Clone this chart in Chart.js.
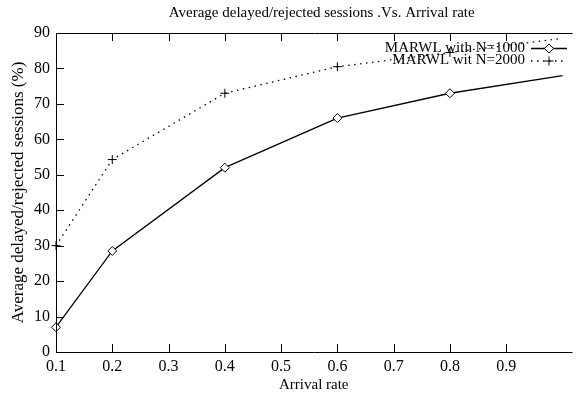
<!DOCTYPE html>
<html>
<head>
<meta charset="utf-8">
<script src="https://cdn.jsdelivr.net/npm/chart.js@4.4.0/dist/chart.umd.min.js"></script>
<style>
  body { margin: 0; background: #fff; }
</style>
</head>
<body>
<canvas id="grafica" width="577" height="396"></canvas>
<script>
// Datos
const tasas = [0.1, 0.2, 0.4, 0.6, 0.8, 1.0];
const n1000 = [7, 28.5, 52, 66, 73, 78];
const n2000 = [30, 54.3, 73, 80.5, 84.5, 88.5];
const ticksX = [0.1, 0.2, 0.3, 0.4, 0.5, 0.6, 0.7, 0.8, 0.9];
const ticksY = [0, 10, 20, 30, 40, 50, 60, 70, 80, 90];
const titulo = 'Average delayed/rejected sessions .Vs. Arrival rate';

const fuente = "'Liberation Serif', 'DejaVu Serif', serif";

// marco estilo gnuplot, con ticks hacia dentro
const marco = {
    id: 'marco',
    afterDatasetsDraw(chart) {
        const ctx = chart.ctx;
        const a = chart.chartArea;
        const x = chart.scales.x;
        const y = chart.scales.y;
        ctx.save();
        ctx.strokeStyle = '#000';
        ctx.lineWidth = 1;
        ctx.beginPath();
        ctx.moveTo(a.right + 1, a.top + 0.5);
        ctx.lineTo(a.left + 0.5, a.top + 0.5);
        ctx.lineTo(a.left + 0.5, a.bottom + 0.5);
        ctx.lineTo(a.right + 1, a.bottom + 0.5);
        ticksX.forEach(v => {
            const px = Math.round(x.getPixelForValue(v)) + 0.5;
            ctx.moveTo(px, a.bottom);
            ctx.lineTo(px, a.bottom - 8);
            ctx.moveTo(px, a.top);
            ctx.lineTo(px, a.top + 8);
        });
        ticksY.forEach(v => {
            const py = Math.round(y.getPixelForValue(v)) + 0.5;
            ctx.moveTo(a.left, py);
            ctx.lineTo(a.left + 8, py);
        });
        ctx.stroke();

        // titulo
        ctx.fillStyle = '#000';
        ctx.font = '15px ' + fuente;
        ctx.textAlign = 'center';
        ctx.textBaseline = 'middle';
        ctx.fillText(titulo, (a.left + a.right) / 2 + 8, 13);

        // leyenda dentro del area
        ctx.textAlign = 'right';
        chart.data.datasets.forEach((ds, i) => {
            const ly = 48 + i * 12.5;
            ctx.fillStyle = '#000';
            ctx.fillText(ds.label, 525, ly);
            ctx.save();
            ctx.lineWidth = ds.borderWidth;
            ctx.setLineDash(ds.borderDash || []);
            ctx.beginPath();
            ctx.moveTo(531, ly + 0.5);
            ctx.lineTo(567, ly + 0.5);
            ctx.stroke();
            ctx.restore();
            ctx.fillStyle = '#fff';
            Chart.helpers.drawPoint(ctx, {
                pointStyle: ds.pointStyle,
                radius: 4.5,
                borderWidth: 1
            }, 549, ly + 0.5);
        });
        ctx.restore();
    }
};

const ctx1 = document.getElementById('grafica').getContext('2d');
const myChart1 = new Chart(ctx1, {
    type: 'line',
    data: {
        labels: tasas,
        datasets: [{
            label: 'MARWL with N=1000',
            data: tasas.map((t, i) => ({ x: t, y: n1000[i] })),
            clip: false,
            borderColor: '#000',
            backgroundColor: '#fff',
            borderWidth: 1.3,
            pointStyle: 'rectRot',
            pointRadius: [4.5, 4.5, 4.5, 4.5, 4.5, 0],
            pointBorderWidth: 1,
            pointBorderColor: '#000',
            pointBackgroundColor: '#fff'
        }, {
            label: 'MARWL wit N=2000',
            data: tasas.map((t, i) => ({ x: t, y: n2000[i] })),
            clip: false,
            borderColor: '#000',
            backgroundColor: '#000',
            borderWidth: 1.3,
            borderDash: [1.5, 4.5],
            pointStyle: 'cross',
            pointRadius: [4.5, 4.5, 4.5, 4.5, 4.5, 0],
            pointBorderWidth: 1,
            pointBorderColor: '#000'
        }]
    },
    options: {
        responsive: false,
        animation: false,
        layout: { padding: { top: 33, right: 0, left: 0, bottom: 0 } },
        plugins: {
            legend: { display: false },
            title: { display: false },
            tooltip: { enabled: false }
        },
        scales: {
            x: {
                type: 'linear',
                min: 0.1,
                max: 1.016,
                afterBuildTicks: s => { s.ticks = ticksX.map(v => ({ value: v })); },
                afterFit: s => { s.height = 44; },
                grid: { display: false, drawTicks: false },
                border: { display: false },
                ticks: {
                    color: '#000',
                    padding: 5,
                    maxRotation: 0,
                    font: { family: fuente, size: 16 },
                    callback: v => String(v)
                },
                title: {
                    display: true,
                    text: 'Arrival rate',
                    color: '#000',
                    font: { family: fuente, size: 15 },
                    padding: { top: 0, bottom: 2 }
                }
            },
            y: {
                min: 0,
                max: 90,
                afterBuildTicks: s => { s.ticks = ticksY.map(v => ({ value: v })); },
                afterFit: s => { s.width = 56; },
                grid: { display: false, drawTicks: false },
                border: { display: false },
                ticks: {
                    color: '#000',
                    padding: 6,
                    font: { family: fuente, size: 16 }
                },
                title: {
                    display: true,
                    text: 'Average delayed/rejected sessions (%)',
                    color: '#000',
                    font: { family: fuente, size: 17 },
                    padding: { top: 8, bottom: 0 }
                }
            }
        }
    },
    plugins: [marco]
});
</script>
</body>
</html>
